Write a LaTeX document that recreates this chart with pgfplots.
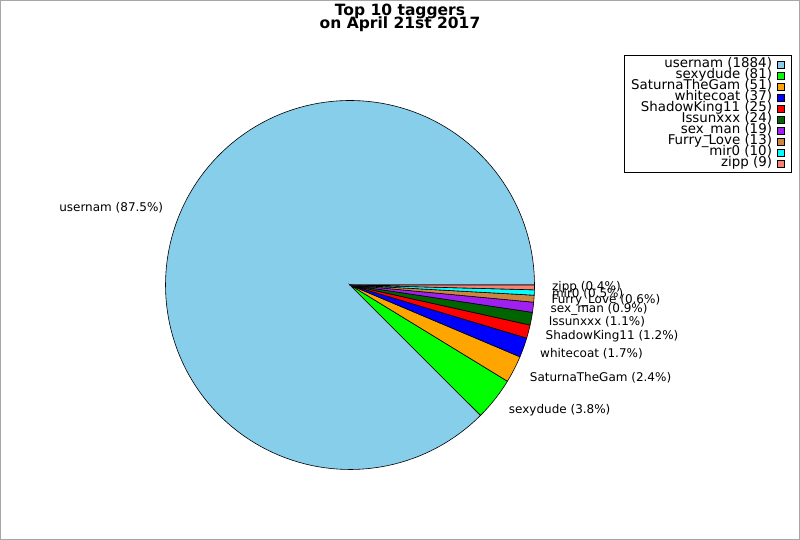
\documentclass[border=0pt]{standalone}
\usepackage{pgfplots}
\usepackage{pgfplotstable}
\pgfplotsset{compat=1.18}
\usepackage{fontspec}
\setmainfont{DejaVu Sans}
\definecolor{c1}{RGB}{135,206,235}
\definecolor{c2}{RGB}{0,255,0}
\definecolor{c3}{RGB}{255,165,0}
\definecolor{c4}{RGB}{0,0,255}
\definecolor{c5}{RGB}{255,0,0}
\definecolor{c6}{RGB}{0,100,0}
\definecolor{c7}{RGB}{160,32,240}
\definecolor{c8}{RGB}{205,133,63}
\definecolor{c9}{RGB}{0,255,255}
\definecolor{c10}{RGB}{250,128,114}
\pgfplotstableread{
name count col
usernam 1884 c1
sexydude 81 c2
SaturnaTheGam 51 c3
whitecoat 37 c4
ShadowKing11 25 c5
Issunxxx 24 c6
sex\_man 19 c7
Furry\_Love 13 c8
mir0 10 c9
zipp 9 c10
}\taggers
\def\total{2153}
\begin{document}
\begin{tikzpicture}
\begin{axis}[x=1pt,y=1pt,xmin=-350,xmax=450,ymin=-255,ymax=285,
  hide axis, clip=false,
  legend style={at={(0.99,0.8981)}, anchor=north east, draw=black, line width=0.8pt,
    font=\fontsize{13.4}{13}\selectfont, cells={anchor=east},
    nodes={inner sep=0pt, text height=8.5pt, text depth=2.5pt},
    inner xsep=7pt, inner ysep=3.5pt, row sep=0pt, column sep=5pt},
  legend plot pos=right,
  legend image code/.code={\draw[#1,draw=black,line width=0.6pt] (0pt,-3.5pt) rectangle (7pt,3.5pt);},
]
\def\cum{0}
\pgfplotsforeachungrouped \i in {0,...,9}{%
  \pgfplotstablegetelem{\i}{count}\of\taggers \let\cnt\pgfplotsretval
  \pgfplotstablegetelem{\i}{name}\of\taggers \let\nm\pgfplotsretval
  \pgfplotstablegetelem{\i}{col}\of\taggers \let\cl\pgfplotsretval
  \pgfmathsetmacro\a{\cum/\total*360}%
  \pgfmathsetmacro\b{(\cum+\cnt)/\total*360}%
  \pgfmathsetmacro\m{(\a+\b)/2}%
  \pgfmathtruncatemacro\tenths{round(\cnt/\total*1000)}%
  \pgfmathtruncatemacro\ip{\tenths/10}%
  \pgfmathtruncatemacro\fp{\tenths-10*\ip}%
  \pgfmathsetmacro\lx{202*cos(\m)}%
  \pgfmathsetmacro\ly{202*sin(\m)}%
  \pgfmathsetmacro\cs{cos(\m)}%
  \ifdim\cs pt<0pt \def\anc{east}\else\def\anc{west}\fi
  \pgfmathsetmacro\cum{\cum+\cnt}%
  \edef\tmp{%
    \noexpand\addplot[fill=\cl, draw=black, line width=0.6pt, domain=\a:\b, samples=150, variable=\noexpand\t]
      ({184.5*cos(\noexpand\t)},{184.5*sin(\noexpand\t)}) -- (axis cs:0,0) -- cycle;
    \noexpand\addlegendentry{\unexpanded\expandafter{\nm} (\cnt)}
    \noexpand\node[anchor=\anc, inner sep=0pt, font=\noexpand\fontsize{12}{12}\noexpand\selectfont]
      at (axis cs:\lx,\ly) {\unexpanded\expandafter{\nm} (\ip.\fp\noexpand\%)};
  }%
  \tmp
}
\node[anchor=base, font=\fontsize{15.5}{15.5}\selectfont\bfseries] at (axis cs:50,269.3) {Top 10 taggers};
\node[anchor=base, font=\fontsize{15.5}{15.5}\selectfont\bfseries] at (axis cs:50,256) {on April 21st 2017};
\draw[gray!70, line width=1pt] (axis cs:-349.5,-254.5) rectangle (axis cs:449.5,284.5);
\end{axis}
\end{tikzpicture}
\end{document}
